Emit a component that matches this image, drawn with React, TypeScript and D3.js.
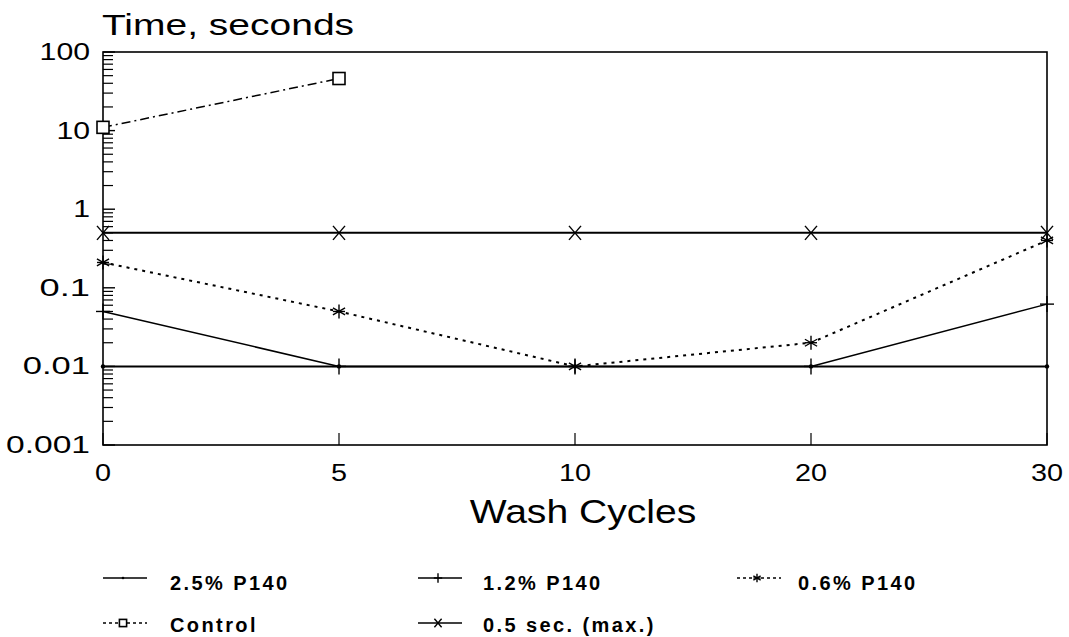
import React from "react";
import * as d3 from "d3";

const cycles = ["0", "5", "10", "20", "30"];
const p25 = [0.01, 0.01, 0.01, 0.01, 0.01];
const p12 = [0.05, 0.01, 0.01, 0.01, 0.062];
const p06 = [0.21, 0.05, 0.01, 0.02, 0.4];
const control: (number | null)[] = [11, 46, null, null, null];
const max05 = [0.5, 0.5, 0.5, 0.5, 0.5];
const yTicks = [100, 10, 1, 0.1, 0.01, 0.001];
const yTickLabels = ["100", "10", "1", "0.1", "0.01", "0.001"];
const legendNames = ["2.5% P140", "1.2% P140", "0.6% P140", "Control", "0.5 sec. (max.)"];

const W = 1069, H = 637;
const L = 103, R = 1047, T = 52, B = 445;
const FONT = "'Liberation Sans', Arial, Helvetica, sans-serif";

const x = d3.scalePoint<string>().domain(cycles).range([L, R]);
const y = d3.scaleLog().domain([0.001, 100]).range([B, T]);

type Marker = "dot" | "plus" | "star" | "square" | "cross";

function MarkerShape({ type, cx, cy, k = 1 }: { type: Marker; cx: number; cy: number; k?: number }) {
  const s = "#000";
  if (type === "dot") return <circle cx={cx} cy={cy} r={2.2 * k} fill={s} />;
  if (type === "plus")
    return (
      <g stroke={s} strokeWidth={1.4}>
        <line x1={cx - 7 * k} x2={cx + 7 * k} y1={cy} y2={cy} />
        <line x1={cx} x2={cx} y1={cy - 8 * k} y2={cy + 8 * k} />
      </g>
    );
  if (type === "square")
    return (
      <rect x={cx - 6 * k} y={cy - 6 * k} width={12 * k} height={12 * k} fill="#fff" stroke={s} strokeWidth={1.6} />
    );
  if (type === "cross")
    return (
      <g stroke={s} strokeWidth={1.4}>
        <line x1={cx - 6 * k} x2={cx + 6 * k} y1={cy - 7 * k} y2={cy + 7 * k} />
        <line x1={cx - 6 * k} x2={cx + 6 * k} y1={cy + 7 * k} y2={cy - 7 * k} />
      </g>
    );
  const r = 7 * k;
  return (
    <g stroke={s} strokeWidth={1.4}>
      {[0, 60, 120].map((a) => {
        const rad = (a * Math.PI) / 180 + Math.PI / 2;
        return (
          <line
            key={a}
            x1={cx - r * Math.cos(rad)}
            y1={cy - r * Math.sin(rad)}
            x2={cx + r * Math.cos(rad)}
            y2={cy + r * Math.sin(rad)}
          />
        );
      })}
      <line x1={cx - 6 * k} x2={cx + 6 * k} y1={cy} y2={cy} />
    </g>
  );
}

const series: { name: string; values: (number | null)[]; marker: Marker; dash: string; width: number }[] = [
  { name: legendNames[0], values: p25, marker: "dot", dash: "none", width: 2 },
  { name: legendNames[1], values: p12, marker: "plus", dash: "none", width: 1.5 },
  { name: legendNames[2], values: p06, marker: "star", dash: "3,5", width: 2 },
  { name: legendNames[3], values: control, marker: "square", dash: "9,4,2,4", width: 1.5 },
  { name: legendNames[4], values: max05, marker: "cross", dash: "none", width: 2 },
];

function StretchText({ x: tx, y: ty, sx, children, anchor = "start", size, weight = "normal" }: any) {
  return (
    <text
      transform={`translate(${tx},${ty}) scale(${sx},1)`}
      textAnchor={anchor}
      fontSize={size}
      fontWeight={weight}
      fontFamily={FONT}
      fill="#000"
    >
      {children}
    </text>
  );
}

export default function App() {
  const line = d3
    .line<number | null>()
    .defined((d) => d != null)
    .x((_, i) => x(cycles[i]) as number)
    .y((d) => y(d as number));

  const minor: number[] = [];
  for (let e = -3; e < 2; e++) {
    for (let k = 2; k <= 9; k++) minor.push(k * Math.pow(10, e));
  }

  const legendPos = [
    { lx: 103, tx: 170, ly: 578, ty: 590 },
    { lx: 418, tx: 483, ly: 578, ty: 590 },
    { lx: 737, tx: 798, ly: 578, ty: 590 },
    { lx: 103, tx: 170, ly: 623, ty: 632 },
    { lx: 418, tx: 483, ly: 623, ty: 632 },
  ];

  return (
    <svg width={W} height={H} style={{ position: "absolute", left: 0, top: 0, background: "#fff" }}>
      <rect x={0} y={0} width={W} height={H} fill="#fff" />
      <rect x={L} y={T} width={R - L} height={B - T} fill="none" stroke="#000" strokeWidth={1.6} />
      {minor.map((v, i) => (
        <line key={i} x1={L} x2={L + 10} y1={y(v)} y2={y(v)} stroke="#000" strokeWidth={1.2} />
      ))}
      {yTicks.map((v, i) => (
        <line key={"M" + i} x1={L} x2={L + 12} y1={y(v)} y2={y(v)} stroke="#000" strokeWidth={1.4} />
      ))}
      {cycles.map((c) => (
        <line key={c} x1={x(c)} x2={x(c)} y1={B} y2={B - 12} stroke="#000" strokeWidth={1.2} />
      ))}
      {yTicks.map((v, i) => {
        const lab = yTickLabels[i];
        return (
          <text
            key={v}
            x={90}
            y={y(v) + 8}
            textAnchor="end"
            fontSize={23}
            fontFamily={FONT}
            textLength={lab.length * 16.8}
            lengthAdjust="spacingAndGlyphs"
          >
            {lab}
          </text>
        );
      })}
      {cycles.map((c) => (
        <StretchText key={c} x={x(c)} y={481} sx={1.2} anchor="middle" size={24}>
          {c}
        </StretchText>
      ))}
      <StretchText x={583} y={523} sx={1.15} anchor="middle" size={34}>
        Wash Cycles
      </StretchText>
      <StretchText x={102} y={35} sx={1.3} size={30}>
        Time, seconds
      </StretchText>
      {series.map((s) => (
        <g key={s.name}>
          <path d={line(s.values) || ""} fill="none" stroke="#000" strokeWidth={s.width} strokeDasharray={s.dash} />
          {s.values.map((v, i) =>
            v == null ? null : <MarkerShape key={i} type={s.marker} cx={x(cycles[i]) as number} cy={y(v)} />
          )}
        </g>
      ))}
      {series.map((s, i) => {
        const p = legendPos[i];
        return (
          <g key={"lg" + i}>
            <line
              x1={p.lx}
              x2={p.lx + 44}
              y1={p.ly}
              y2={p.ly}
              stroke="#000"
              strokeWidth={1.5}
              strokeDasharray={s.dash === "none" ? "none" : "3,3"}
            />
            <MarkerShape type={s.marker} cx={p.lx + 20} cy={p.ly} k={0.6} />
            <text x={p.tx} y={p.ty} fontSize={20} fontWeight="bold" fontFamily={FONT} letterSpacing={2.4}>
              {s.name}
            </text>
          </g>
        );
      })}
    </svg>
  );
}
